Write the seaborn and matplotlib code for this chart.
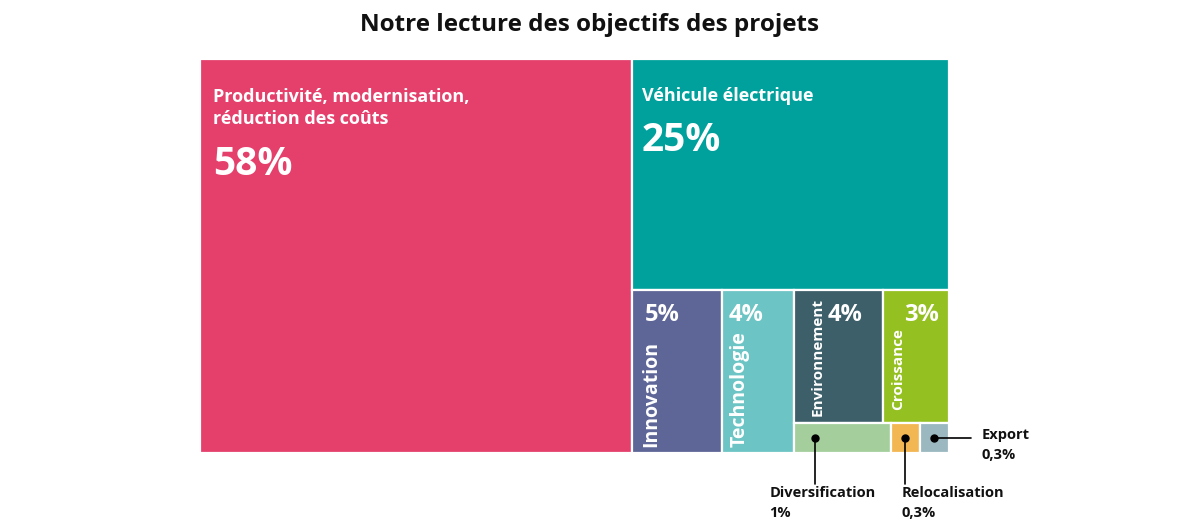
import matplotlib
matplotlib.use("Agg")
import matplotlib.pyplot as plt
import seaborn as sns

# ---- data ----
names = ["Productivité, modernisation,\nréduction des coûts", "Véhicule électrique",
         "Innovation", "Technologie", "Environnement", "Croissance",
         "Diversification", "Relocalisation", "Export"]
values = [58, 25, 5, 4, 4, 3, 1, 0.3, 0.3]
pct_labels = ["58%", "25%", "5%", "4%", "4%", "3%", "1%", "0,3%", "0,3%"]
colors = ["#E5406B", "#00A19C", "#5E6697", "#6CC4C4", "#3C5F6A",
          "#95C022", "#A4CF9C", "#F2B752", "#9BB8C0"]

# nesting of the treemap: h = split horizontally, v = split vertically
tree = ("h", [0, ("v", [1, ("h", [2, 3, ("v", [("h", [4, 5]), ("h", [6, 7, 8])])])])])

W, H = 749, 394


def total(node):
    if isinstance(node, int):
        return values[node]
    return sum(total(c) for c in node[1])


def layout(node, x, y, w, h, out):
    if isinstance(node, int):
        out[node] = (x, y, w, h)
        return
    kind, children = node
    s = total(node)
    for c in children:
        f = total(c) / s
        if kind == "h":
            layout(c, x, y, w * f, h, out)
            x += w * f
        else:
            layout(c, x, y, w, h * f, out)
            y += h * f


rects = {}
layout(tree, 0, 0, W, H, rects)

sns.set_theme(style="white")
plt.rcParams["font.family"] = ["Open Sans", "DejaVu Sans"]

fig = plt.figure(figsize=(12, 5.3), dpi=100)
ax = fig.add_axes([200 / 1200, (530 - 453) / 530, W / 1200, H / 530])

for i in range(len(values)):
    x, y, w, h = rects[i]
    ax.bar(x, h, width=w, bottom=y, align="edge", color=colors[i],
           edgecolor="white", linewidth=1.6)

ax.set_xlim(0, W)
ax.set_ylim(H, 0)
ax.axis("off")

# big blocks: horizontal label + big percentage (va=baseline -> last line)
for i in (0, 1):
    x, y, w, h = rects[i]
    dx = 13 if i == 0 else 10
    ax.text(x + dx, y + (65 if i == 0 else 42), names[i], color="white", fontsize=13,
            fontweight="bold", va="baseline", ha="left", linespacing=1.3)
    ax.text(x + dx, y + (116 if i == 0 else 92), pct_labels[i], color="white",
            fontsize=28, fontweight="bold", va="baseline", ha="left")

# middle blocks: rotated label + percentage
rot_pos = {2: (24, 6, 13, 14), 3: (23, 6, 7, 14), 4: (28, 7, 34, 11), 5: (20, 13, 21, 11)}
for i, (lx, lb, px, fs) in rot_pos.items():
    x, y, w, h = rects[i]
    ax.text(x + lx, y + h - lb, names[i], color="white", fontsize=fs,
            fontweight="bold", rotation=90, rotation_mode="anchor",
            ha="left", va="baseline")
    ax.text(x + px, y + 31, pct_labels[i], color="white", fontsize=17,
            fontweight="bold", ha="left", va="baseline")

# tiny blocks: callouts outside
for i in (6, 7):
    x, y, w, h = rects[i]
    cx = x + (w * 0.22 if i == 6 else w / 2)
    cy = y + h / 2
    ax.plot([cx, cx], [cy, cy + 46], color="black", lw=1.2, clip_on=False)
    ax.plot(cx, cy, "o", color="black", ms=5, clip_on=False)
    tx = cx - 46 if i == 6 else cx - 4
    ax.text(tx, cy + 79, names[i] + "\n" + pct_labels[i], fontsize=10.5,
            color="#111111", fontweight="bold", ha="left", va="baseline",
            linespacing=1.5, clip_on=False)

x, y, w, h = rects[8]
cx, cy = x + w / 2, y + h / 2
ax.plot([cx, cx + 37], [cy, cy], color="black", lw=1.2, clip_on=False)
ax.plot(cx, cy, "o", color="black", ms=5, clip_on=False)
ax.text(cx + 47, cy + 21, names[8] + "\n" + pct_labels[8], fontsize=10.5,
        color="#111111", fontweight="bold", ha="left", va="baseline",
        linespacing=1.5, clip_on=False)

fig.text(589 / 1200, 1 - 25 / 530, "Notre lecture des objectifs des projets",
         fontsize=17.5, color="#111111", fontweight="bold", ha="center", va="center")

fig.savefig("out.png", dpi=100, facecolor="white")
